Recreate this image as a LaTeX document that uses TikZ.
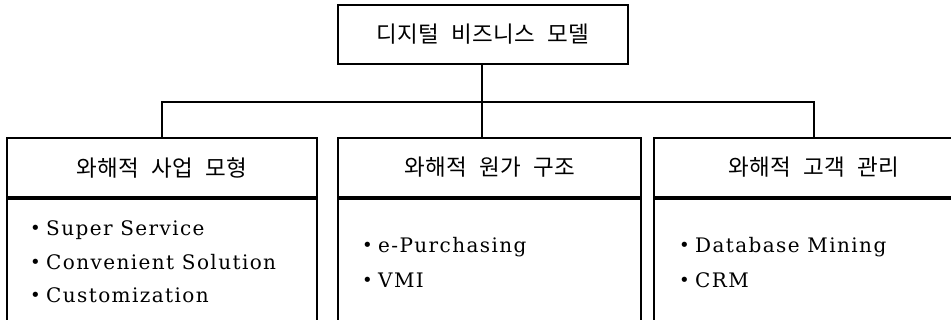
\documentclass[tikz,border=0pt]{standalone}
\usepackage{fontspec}
\setmainfont{DejaVu Serif}[LetterSpace=7]
\newfontfamily\kor{Noto Sans CJK KR}[LetterSpace=2,WordSpace=2.2]
\newfontfamily\dvs{DejaVu Sans}
\newcommand{\bul}{\makebox[16pt][l]{\raisebox{0.1ex}{\dvs\fontsize{18}{18}\selectfont •}}}
\begin{document}
\begin{tikzpicture}[x=1pt,y=-1pt,
  box/.style={draw=black,line width=1.2pt,inner sep=0pt,anchor=center},
  kt/.style={font=\kor\fontsize{22.5}{26}\selectfont},
  item/.style={anchor=base west,inner sep=0pt,font=\fontsize{20}{24}\selectfont},
  conn/.style={draw=black,line width=1.1pt}]
\useasboundingbox (0,0) rectangle (951,320);
\clip (0,0) rectangle (951,320);
\node[box,kt,minimum width=290pt,minimum height=59pt] (title) at (483,34.5) {디지털 비즈니스 모델};
\node[box,kt,minimum width=310pt,minimum height=59pt] (h1) at (162,167.5) {와해적 사업 모형};
\node[box,kt,minimum width=303pt,minimum height=59pt] (h2) at (489.5,167.5) {와해적 원가 구조};
\node[box,kt,minimum width=320pt,minimum height=59pt] (h3) at (814,167.5) {와해적 고객 관리};
\node[box,minimum width=310pt,minimum height=131pt] (b1) at (162,264.5) {};
\node[box,minimum width=303pt,minimum height=131pt] (b2) at (489.5,264.5) {};
\node[box,minimum width=320pt,minimum height=131pt] (b3) at (814,264.5) {};
\coordinate (j) at (482,102);
\draw[conn] (title.south -| j) -- (j);
\draw[conn] (j) -| (h1.north);
\draw[conn] (j) -- (j |- h2.north);
\draw[conn] (j) -| (h3.north);
\node[item] (s1) at (30,236) {\bul Super Service};
\node[item] (s2) at (30,270) {\bul Convenient Solution};
\node[item] (s3) at (30,303) {\bul Customization};
\node[item] (p1) at (362,253) {\bul e-Purchasing};
\node[item] (p2) at (362,288) {\bul VMI};
\node[item] (c1) at (679,253) {\bul Database Mining};
\node[item] (c2) at (679,288) {\bul CRM};
\end{tikzpicture}
\end{document}
